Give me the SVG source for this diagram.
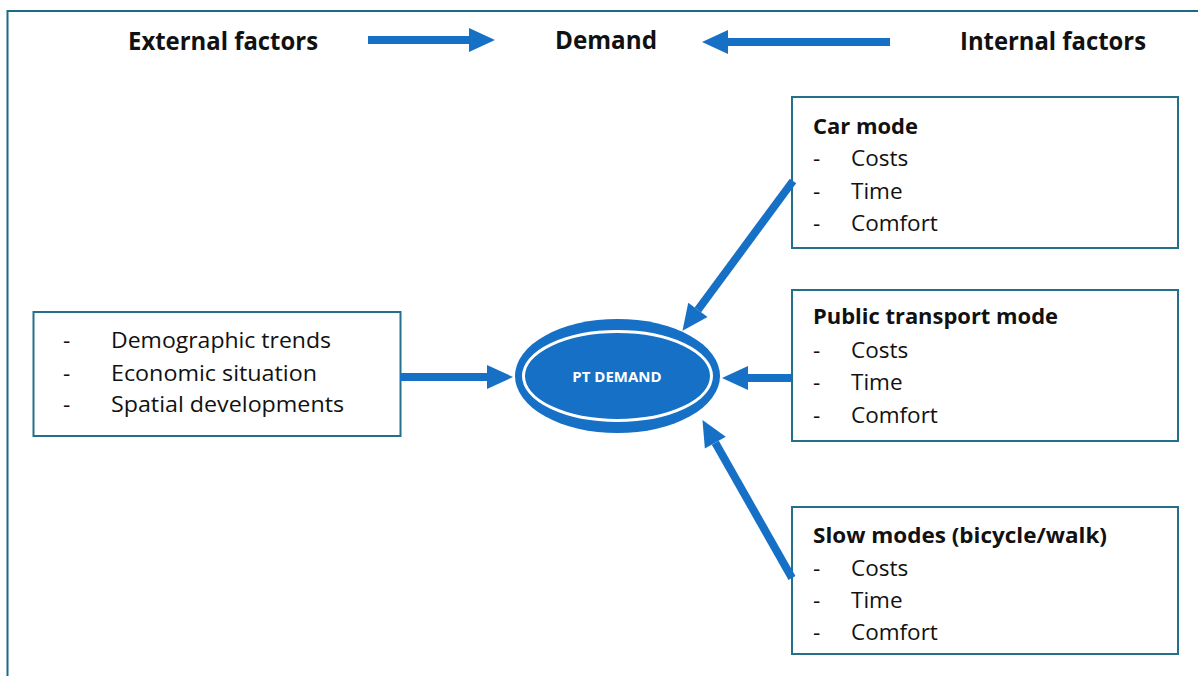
<svg xmlns="http://www.w3.org/2000/svg" width="1198" height="676" viewBox="0 0 1198 676">
  <style>
    .frame { fill: none; stroke: #1c6b86; stroke-width: 2; }
    .box { fill: #ffffff; stroke: #24708b; stroke-width: 2; }
    .head { font-family: "Open Sans", "Liberation Sans", sans-serif; font-weight: bold; font-size: 25px; fill: #111111; }
    .title { font-family: "Open Sans", "Liberation Sans", sans-serif; font-weight: bold; font-size: 22px; fill: #111111; }
    .item { font-family: "Open Sans", "Liberation Sans", sans-serif; font-size: 22.5px; fill: #111111; }
    .conn { stroke: #1570c6; stroke-width: 8; fill: none; }
    .core-label { font-family: "Open Sans", "Liberation Sans", sans-serif; font-weight: bold; font-size: 15px; fill: #ffffff; }
  </style>
  <defs>
    <marker id="tip" markerUnits="userSpaceOnUse" markerWidth="26" markerHeight="24" refX="0" refY="12" orient="auto" overflow="visible">
      <path d="M0,0 L26,12 L0,24 Z" fill="#1570c6"/>
    </marker>
  </defs>

  <rect width="1198" height="676" fill="#ffffff"/>

  <!-- outer frame (open on the right and bottom) -->
  <path class="frame" d="M1198,11 H7.5 V676"/>

  <!-- header row -->
  <g id="header">
    <text class="head" x="128" y="50" textLength="190" lengthAdjust="spacingAndGlyphs">External factors</text>
    <text class="head" x="555" y="49" textLength="102" lengthAdjust="spacingAndGlyphs">Demand</text>
    <text class="head" x="960" y="50" textLength="186" lengthAdjust="spacingAndGlyphs">Internal factors</text>
  </g>

  <!-- external factors box -->
  <g id="external">
    <rect class="box" x="33.5" y="312" width="367" height="124"/>
    <text class="item" x="63" y="348">-</text>
    <text class="item" x="111" y="348" textLength="220" lengthAdjust="spacingAndGlyphs">Demographic trends</text>
    <text class="item" x="63" y="380.5">-</text>
    <text class="item" x="111" y="380.5" textLength="206" lengthAdjust="spacingAndGlyphs">Economic situation</text>
    <text class="item" x="63" y="412">-</text>
    <text class="item" x="111" y="412" textLength="233" lengthAdjust="spacingAndGlyphs">Spatial developments</text>
  </g>

  <!-- car mode box -->
  <g id="car">
    <rect class="box" x="792" y="97" width="386" height="151"/>
    <text class="title" x="813" y="134" textLength="105" lengthAdjust="spacingAndGlyphs">Car mode</text>
    <text class="item" x="813" y="166">-</text>
    <text class="item" x="851" y="166">Costs</text>
    <text class="item" x="813" y="199">-</text>
    <text class="item" x="851" y="199">Time</text>
    <text class="item" x="813" y="231">-</text>
    <text class="item" x="851" y="231">Comfort</text>
  </g>

  <!-- public transport mode box -->
  <g id="pt">
    <rect class="box" x="792" y="290" width="386" height="151"/>
    <text class="title" x="813" y="324" textLength="245" lengthAdjust="spacingAndGlyphs">Public transport mode</text>
    <text class="item" x="813" y="357.5">-</text>
    <text class="item" x="851" y="357.5">Costs</text>
    <text class="item" x="813" y="390">-</text>
    <text class="item" x="851" y="390">Time</text>
    <text class="item" x="813" y="422.5">-</text>
    <text class="item" x="851" y="422.5">Comfort</text>
  </g>

  <!-- slow modes box -->
  <g id="slow">
    <rect class="box" x="792" y="507" width="386" height="147"/>
    <text class="title" x="813" y="542.5" textLength="294" lengthAdjust="spacingAndGlyphs">Slow modes (bicycle/walk)</text>
    <text class="item" x="813" y="576">-</text>
    <text class="item" x="851" y="576">Costs</text>
    <text class="item" x="813" y="607.5">-</text>
    <text class="item" x="851" y="607.5">Time</text>
    <text class="item" x="813" y="640">-</text>
    <text class="item" x="851" y="640">Comfort</text>
  </g>

  <!-- central demand ellipse -->
  <g id="pt-demand">
    <ellipse cx="617.5" cy="376" rx="102.5" ry="57" fill="#1570c6"/>
    <ellipse cx="617.5" cy="376" rx="94" ry="44.5" fill="#1570c6" stroke="#ffffff" stroke-width="3"/>
    <text class="core-label" x="617" y="382" text-anchor="middle">PT DEMAND</text>
  </g>

  <!-- connectors -->
  <g id="connectors">
    <line class="conn" x1="368" y1="40" x2="469" y2="40" marker-end="url(#tip)"/>
    <line class="conn" x1="890" y1="42" x2="728" y2="42" marker-end="url(#tip)"/>
    <line class="conn" x1="400" y1="377" x2="487" y2="377" marker-end="url(#tip)"/>
    <line class="conn" x1="791" y1="378" x2="748" y2="378" marker-end="url(#tip)"/>
    <line class="conn" x1="793" y1="181" x2="697.9" y2="309.9" marker-end="url(#tip)"/>
    <line class="conn" x1="792" y1="578" x2="715.3" y2="442.7" marker-end="url(#tip)"/>
  </g>
</svg>
